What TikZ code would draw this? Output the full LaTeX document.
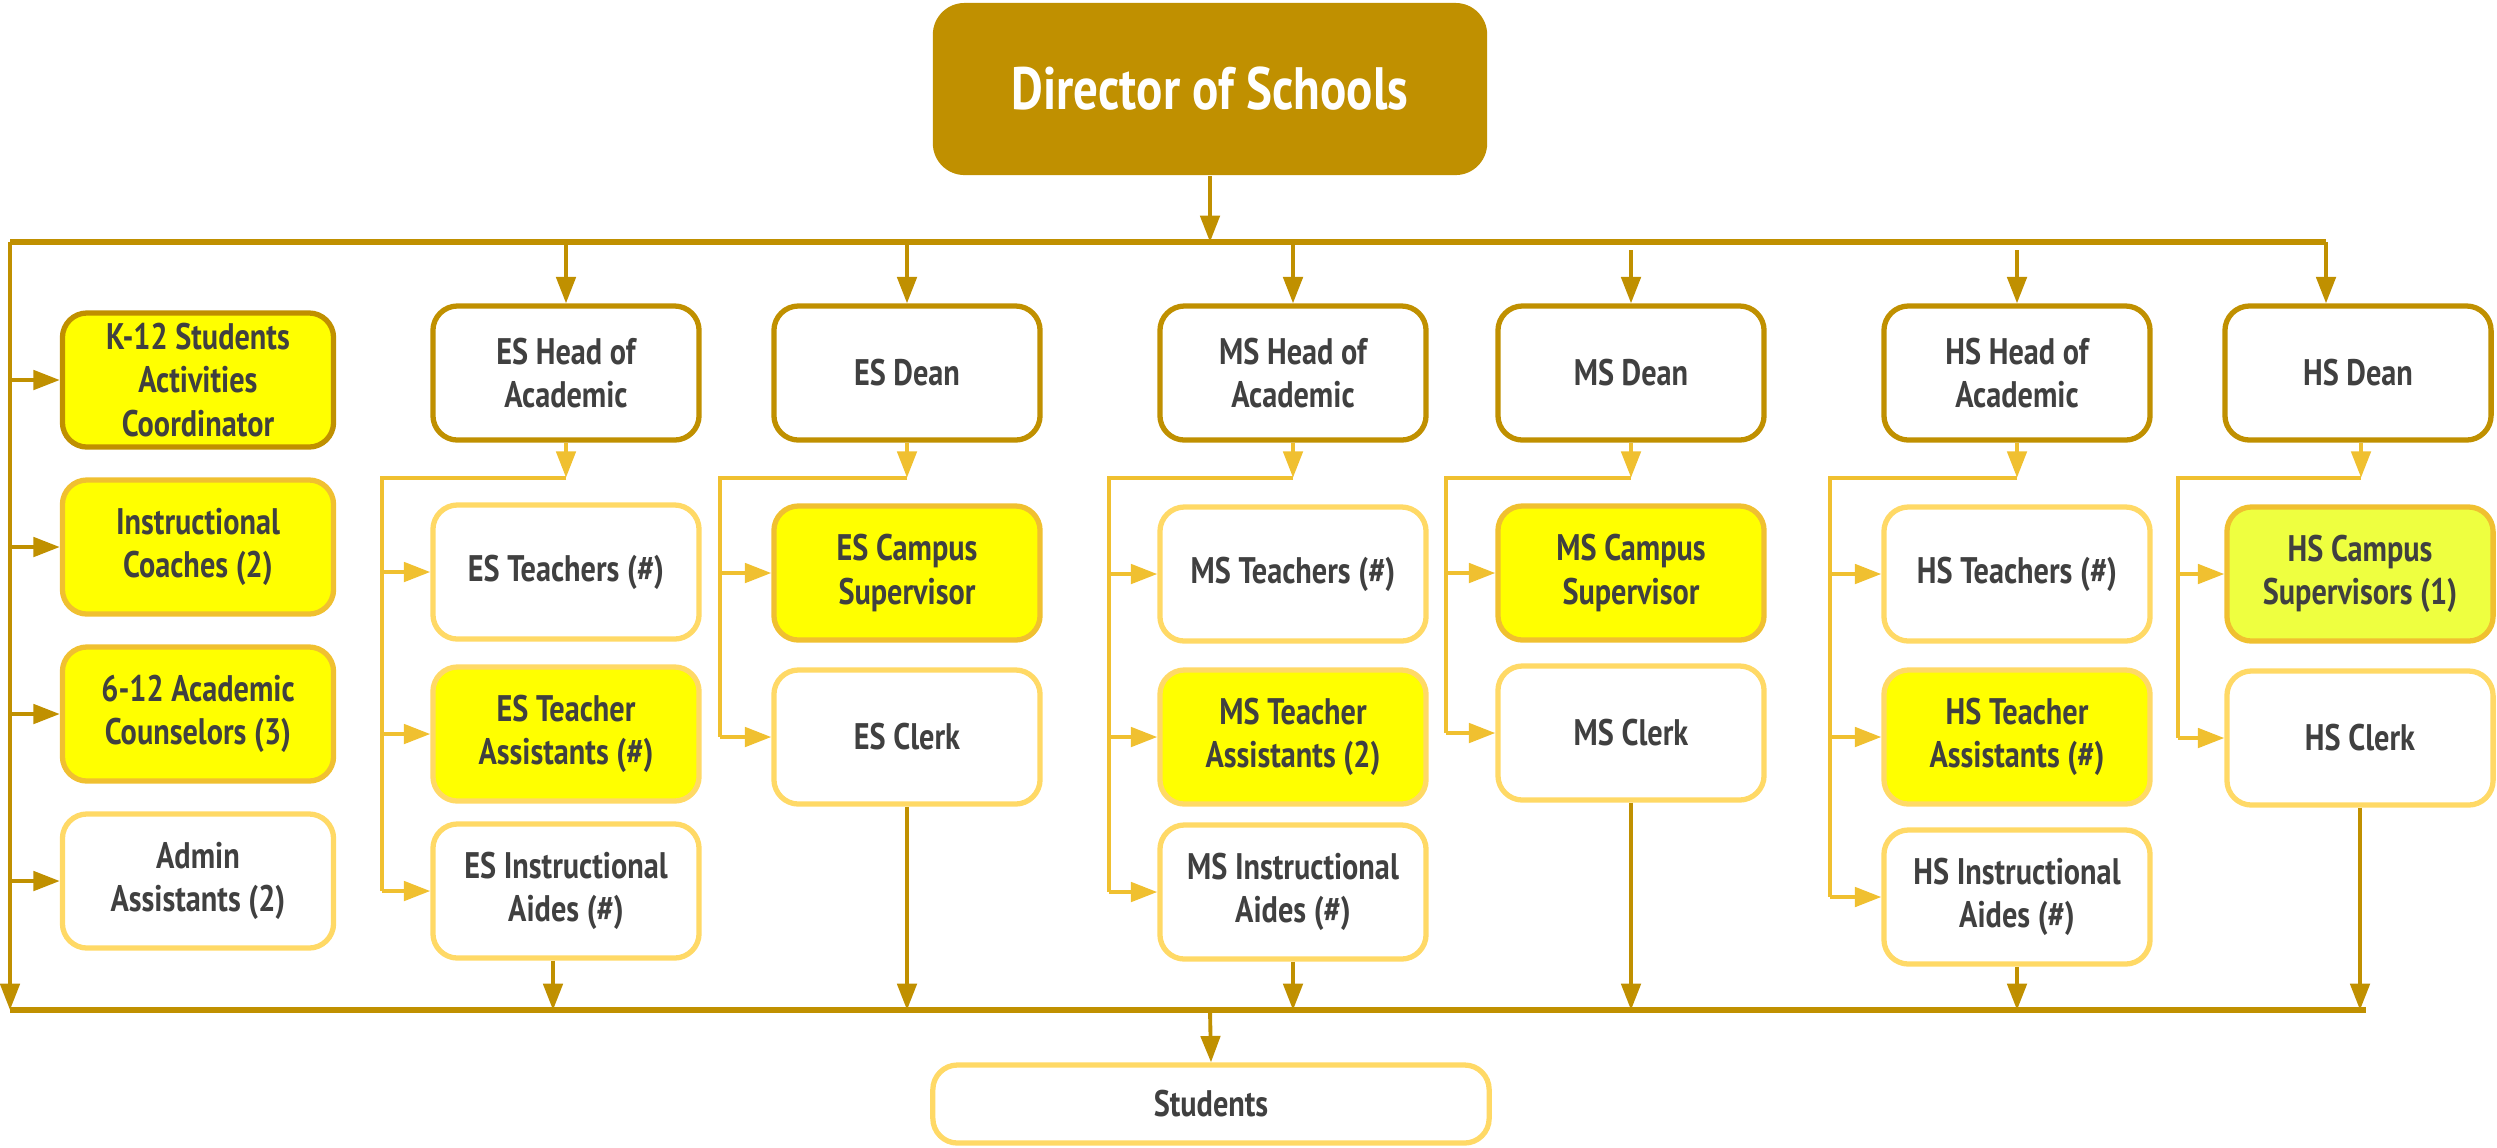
\documentclass[tikz,border=0pt]{standalone}
\usepackage{fontspec}
\setmainfont{PT Sans}[FakeStretch=0.82]
\usetikzlibrary{calc}
\usetikzlibrary{arrows.meta}

\definecolor{golddark}{HTML}{C09000}
\definecolor{goldmid}{HTML}{F0C030}
\definecolor{goldlight}{HTML}{FFD966}
\definecolor{boxyellow}{HTML}{FFFF00}
\definecolor{boxlime}{HTML}{EEFF40}
\definecolor{textgray}{HTML}{404040}

\tikzset{
    role/.style={draw, rounded corners=7pt, line width=1.5pt, fill=white, align=center,
        text=textgray, font=\bfseries\fontsize{10.5}{12.4}\selectfont,
        minimum width=2.66cm, minimum height=1.34cm, inner sep=0pt},
    lead/.style={role, draw=golddark},
    staff/.style={role, draw=goldlight},
    keyrole/.style={role, draw=goldmid, fill=boxyellow},
    bus/.style={draw=golddark, line width=1.8pt},
    toplink/.style={draw=golddark, line width=1.1pt, -{Triangle[length=7.5pt,width=5.5pt]}},
    subline/.style={draw=goldmid, line width=1.1pt},
    sublink/.style={draw=goldmid, line width=1.1pt, -{Triangle[length=7.5pt,width=5.5pt]}},
}

\begin{document}
\begin{tikzpicture}[x=0.01cm, y=-0.01cm]
    \useasboundingbox (0,0) rectangle (2497,1147);

    % top
    \node[fill=golddark, rounded corners=9pt, minimum width=5.54cm, minimum height=1.72cm,
        text=white, font=\bfseries\fontsize{17}{20}\selectfont] (dir) at (1210,89) {Director of Schools};
    \coordinate (tl) at (10,242);
    \coordinate (tr) at (2326,242);
    \coordinate (bl) at (10,1010);
    \coordinate (br) at (2366,1010);

    % left column
    \node[keyrole, draw=golddark, minimum width=2.71cm] (kact) at (198,380) {K-12 Students\\Activities\\Coordinator};
    \node[keyrole, minimum width=2.71cm] (coach) at (198,547) {Instructional\\Coaches (2)};
    \node[keyrole, minimum width=2.71cm] (couns) at (198,714) {6-12 Academic\\Counselors (3)};
    \node[staff, minimum width=2.71cm] (admin) at (198,881) {Admin\\Assistants (2)};

    % heads and deans
    \node[lead] (eshead) at (566,373) {ES Head of\\Academic};
    \node[lead] (esdean) at (907,373) {ES Dean};
    \node[lead] (mshead) at (1293,373) {MS Head of\\Academic};
    \node[lead] (msdean) at (1631,373) {MS Dean};
    \node[lead] (hshead) at (2017,373) {HS Head of\\Academic};
    \node[lead] (hsdean) at (2358,373) {HS Dean};

    % ES
    \node[staff] (estch) at (566,572) {ES Teachers (\#)};
    \node[keyrole, draw=goldlight] (estas) at (566,734) {ES Teacher\\Assistants (\#)};
    \node[staff] (esaide) at (566,891) {ES Instructional\\Aides (\#)};
    \node[keyrole] (escamp) at (907,573) {ES Campus\\Supervisor};
    \node[staff] (esclerk) at (907,737) {ES Clerk};

    % MS
    \node[staff] (mstch) at (1293,574) {MS Teachers (\#)};
    \node[keyrole, draw=goldlight] (mstas) at (1293,737) {MS Teacher\\Assistants (2)};
    \node[staff] (msaide) at (1293,892) {MS Instructional\\Aides (\#)};
    \node[keyrole] (mscamp) at (1631,573) {MS Campus\\Supervisor};
    \node[staff] (msclerk) at (1631,733) {MS Clerk};

    % HS
    \node[staff] (hstch) at (2017,574) {HS Teachers (\#)};
    \node[keyrole, draw=goldlight] (hstas) at (2017,737) {HS Teacher\\Assistants (\#)};
    \node[staff] (hsaide) at (2017,897) {HS Instructional\\Aides (\#)};
    \node[keyrole, fill=boxlime] (hscamp) at (2360,574) {HS Campus\\Supervisors (1)};
    \node[staff] (hsclerk) at (2360,738) {HS Clerk};

    \node[staff, minimum width=5.56cm, minimum height=0.78cm] (stud) at (1211,1104) {Students};

    % top bus
    \draw[toplink] (dir.south) -- (dir.south |- tl);
    \draw[bus] (tl) -- (tr);
    \draw[toplink] (tr) -- (tr |- hsdean.north);
    \draw[toplink] (eshead.north |- tl) -- (eshead.north);
    \draw[toplink] (esdean.north |- tl) -- (esdean.north);
    \draw[toplink] (mshead.north |- tl) -- (mshead.north);
    \draw[toplink] ($(msdean.north |- tl)+(0,8)$) -- (msdean.north);
    \draw[toplink] ($(hshead.north |- tl)+(0,8)$) -- (hshead.north);

    % left side
    \draw[toplink] (tl) -- (bl);
    \draw[toplink] (tl |- kact.west) -- (kact.west);
    \draw[toplink] (tl |- coach.west) -- (coach.west);
    \draw[toplink] (tl |- couns.west) -- (couns.west);
    \draw[toplink] (tl |- admin.west) -- (admin.west);

    % ES head
    \draw[sublink] (eshead.south) -- ++(0,35) coordinate (esh);
    \draw[subline] (esh) -| ($(esaide.west)+(-48,0)$);
    \draw[sublink] ($(estch.west)+(-48,0)$) -- (estch.west);
    \draw[sublink] ($(estas.west)+(-48,0)$) -- (estas.west);
    \draw[sublink] ($(esaide.west)+(-48,0)$) -- (esaide.west);

    % ES dean
    \draw[sublink] (esdean.south) -- ++(0,35) coordinate (esd);
    \draw[subline] (esd) -| ($(esclerk.west)+(-51,0)$);
    \draw[sublink] ($(escamp.west)+(-51,0)$) -- (escamp.west);
    \draw[sublink] ($(esclerk.west)+(-51,0)$) -- (esclerk.west);

    % MS head
    \draw[sublink] (mshead.south) -- ++(0,35) coordinate (msh);
    \draw[subline] (msh) -| ($(msaide.west)+(-48,0)$);
    \draw[sublink] ($(mstch.west)+(-48,0)$) -- (mstch.west);
    \draw[sublink] ($(mstas.west)+(-48,0)$) -- (mstas.west);
    \draw[sublink] ($(msaide.west)+(-48,0)$) -- (msaide.west);

    % MS dean
    \draw[sublink] (msdean.south) -- ++(0,35) coordinate (msd);
    \draw[subline] (msd) -| ($(msclerk.west)+(-49,0)$);
    \draw[sublink] ($(mscamp.west)+(-49,0)$) -- (mscamp.west);
    \draw[sublink] ($(msclerk.west)+(-49,0)$) -- (msclerk.west);

    % HS head
    \draw[sublink] (hshead.south) -- ++(0,35) coordinate (hsh);
    \draw[subline] (hsh) -| ($(hsaide.west)+(-51,0)$);
    \draw[sublink] ($(hstch.west)+(-51,0)$) -- (hstch.west);
    \draw[sublink] ($(hstas.west)+(-51,0)$) -- (hstas.west);
    \draw[sublink] ($(hsaide.west)+(-51,0)$) -- (hsaide.west);

    % HS dean
    \draw[sublink] ($(hsdean.south)+(3,0)$) -- ++(0,35) coordinate (hsd);
    \draw[subline] (hsd) -| ($(hsclerk.west)+(-46,0)$);
    \draw[sublink] ($(hscamp.west)+(-46,0)$) -- (hscamp.west);
    \draw[sublink] ($(hsclerk.west)+(-46,0)$) -- (hsclerk.west);

    % bottom bus
    \draw[bus] (bl) -- (br);
    \draw[toplink] ($(esaide.south)+(-13,0)$) -- ($(esaide.south |- bl)+(-13,0)$);
    \draw[toplink] (esclerk.south) -- (esclerk.south |- bl);
    \draw[toplink] (msaide.south) -- (msaide.south |- bl);
    \draw[toplink] (msclerk.south) -- (msclerk.south |- bl);
    \draw[toplink] (hsaide.south) -- (hsaide.south |- bl);
    \draw[toplink] (hsclerk.south) -- (hsclerk.south |- bl);
    \draw[toplink] (dir.south |- bl) -- (stud.north);
\end{tikzpicture}
\end{document}
